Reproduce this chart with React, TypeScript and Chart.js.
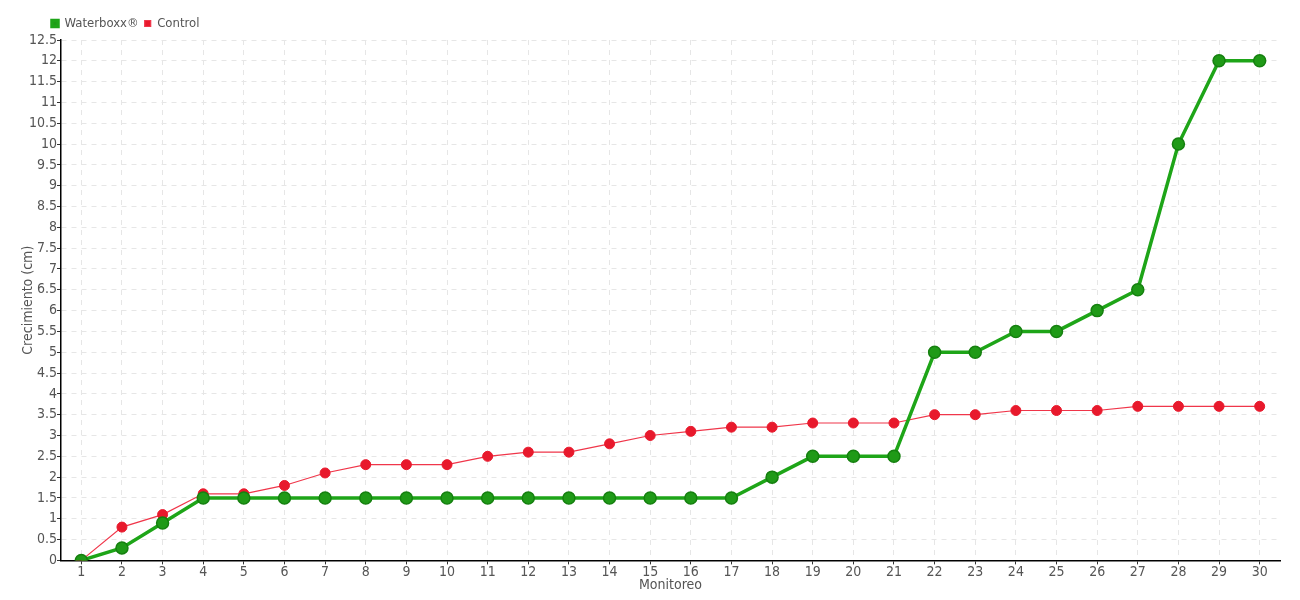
import React, { useEffect, useRef } from "react";
import { Chart, registerables } from "chart.js";

Chart.register(...registerables);

const categories = ["1","2","3","4","5","6","7","8","9","10","11","12","13","14","15","16","17","18","19","20","21","22","23","24","25","26","27","28","29","30"];
const waterboxx = [0, 0.3, 0.9, 1.5, 1.5, 1.5, 1.5, 1.5, 1.5, 1.5, 1.5, 1.5, 1.5, 1.5, 1.5, 1.5, 1.5, 2, 2.5, 2.5, 2.5, 5, 5, 5.5, 5.5, 6, 6.5, 10, 12, 12];
const control = [0, 0.8, 1.1, 1.6, 1.6, 1.8, 2.1, 2.3, 2.3, 2.3, 2.5, 2.6, 2.6, 2.8, 3.0, 3.1, 3.2, 3.2, 3.3, 3.3, 3.3, 3.5, 3.5, 3.6, 3.6, 3.6, 3.7, 3.7, 3.7, 3.7];
const seriesNames = ["Waterboxx®", "Control"];
const yTitle = "Crecimiento (cm)";
const xTitle = "Monitoreo";

const FONT = "'DejaVu Sans', sans-serif";
const mkFont = (size: number) => ({ family: FONT, size, weight: "condensed" as any });

export default function App() {
  const ref = useRef<HTMLCanvasElement | null>(null);
  useEffect(() => {
    if (!ref.current) return;
    const legendShift = {
      id: "legendShift",
      afterLayout(chart: any) {
        if (chart.legend) {
          chart.legend.left += 28;
          chart.legend.right += 28;
        }
      },
    };
    const chart = new Chart(ref.current, {
      type: "line",
      data: {
        labels: categories,
        datasets: [
          {
            label: seriesNames[0],
            data: waterboxx,
            borderColor: "#1ea518",
            backgroundColor: "#1f9a17",
            pointBorderColor: "#15800f",
            borderWidth: 3.5,
            pointRadius: 6,
            pointBorderWidth: 1.5,
            tension: 0,
          },
          {
            label: seriesNames[1],
            data: control,
            borderColor: "#f0364a",
            backgroundColor: "#e8192c",
            pointBorderColor: "#e8192c",
            borderWidth: 1.2,
            pointRadius: 5,
            pointBorderWidth: 1,
            tension: 0,
          },
        ],
      },
      options: {
        responsive: false,
        animation: false,
        layout: { padding: { left: 18, right: 20, top: 11, bottom: 6 } },
        plugins: {
          legend: {
            position: "top",
            align: "start",
            labels: {
              boxWidth: 6,
              boxHeight: 6,
              padding: 6,
              color: "#555",
              font: mkFont(13),
            },
          },
          tooltip: { enabled: false },
        },
        scales: {
          x: {
            offset: true,
            grid: {
              offset: false,
              color: "#e6e6e6",
              tickColor: "#333",
              tickLength: 4,
              drawTicks: true,
            },
            border: { color: "#000", width: 1.5, dash: [5, 5] },
            ticks: { color: "#555", font: mkFont(14), padding: 0, maxRotation: 0, autoSkip: false },
            title: { display: true, text: xTitle, color: "#555", font: mkFont(14), padding: { top: -4, bottom: 0 } },
          },
          y: {
            min: 0,
            max: 12.5,
            afterFit: (scale: any) => { scale.width = 43; },
            grid: { color: "#e6e6e6", tickColor: "#333", tickLength: 4 },
            border: { color: "#000", width: 1.5, dash: [5, 5] },
            ticks: {
              stepSize: 0.5,
              color: "#555",
              font: mkFont(14),
              padding: 0,
              callback: (v: any) => String(v),
            },
            title: { display: true, text: yTitle, color: "#555", font: mkFont(14), padding: 2 },
          },
        },
      },
      plugins: [legendShift],
    } as any);
    return () => chart.destroy();
  }, []);
  return (
    <div style={{ position: "absolute", left: 0, top: 0, width: 1300, height: 600, background: "#fff" }}>
      <canvas ref={ref} width={1300} height={600} />
    </div>
  );
}
